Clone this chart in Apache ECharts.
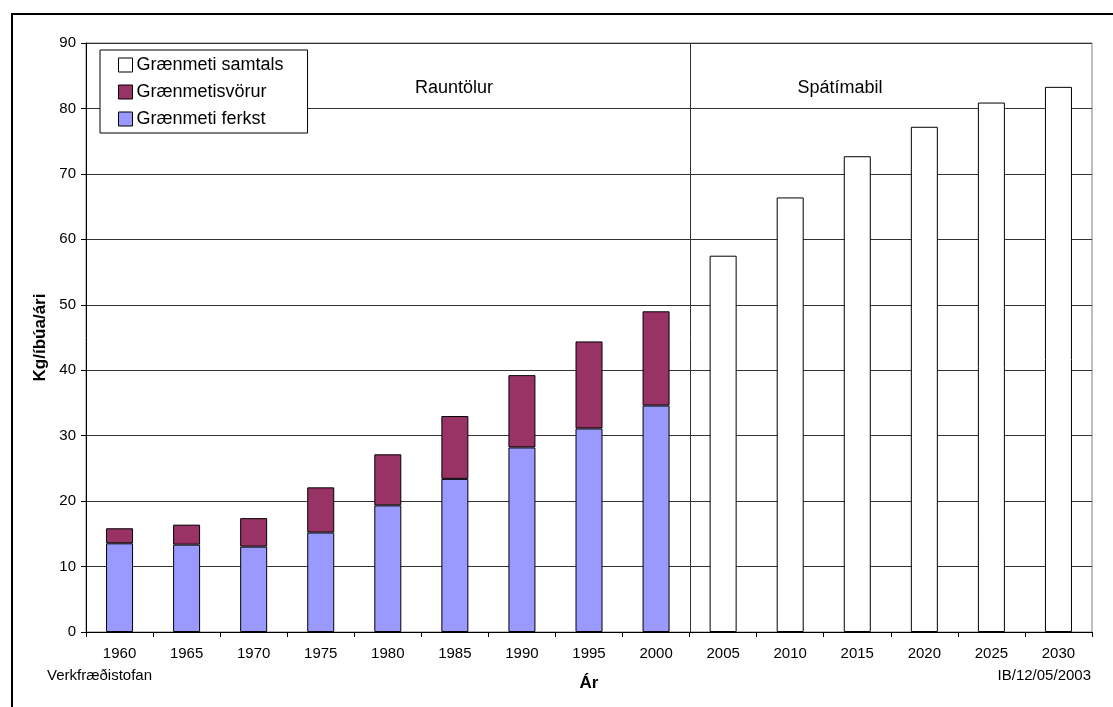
<!DOCTYPE html>
<html>
<head>
<meta charset="utf-8">
<script src="https://cdn.jsdelivr.net/npm/echarts@6/dist/echarts.min.js"></script>
<style>
html,body{margin:0;padding:0;background:#fff;}
#chart{width:1113px;height:707px;}
</style>
</head>
<body>
<div id="chart"></div>
<script>
var years = ['1960','1965','1970','1975','1980','1985','1990','1995','2000','2005','2010','2015','2020','2025','2030'];
var actualYears = ['1960','1965','1970','1975','1980','1985','1990','1995','2000'];
var forecastYears = ['2005','2010','2015','2020','2025','2030'];
var freshValues = [13.55, 13.35, 13.05, 15.2, 19.35, 23.4, 28.2, 31.1, 34.6];
var productValues = [2.3, 3.05, 4.35, 6.9, 7.8, 9.6, 11.05, 13.3, 14.4];
var totalForecast = [57.5, 66.4, 72.7, 77.2, 80.9, 83.3];
var yTicks = [0, 10, 20, 30, 40, 50, 60, 70, 80, 90];

var FONT = '"Liberation Sans", Arial, sans-serif';

function alignTo(cats, vals) {
  return years.map(function (y) {
    var i = cats.indexOf(y);
    return i >= 0 ? vals[i] : null;
  });
}

var chart = echarts.init(document.getElementById('chart'), null, {renderer: 'canvas'});

var option = {
  animation: false,
  backgroundColor: '#fff',
  textStyle: {fontFamily: FONT, color: '#000'},
  grid: {
    left: 86, right: 21, top: 43, bottom: 75,
    show: true, borderColor: '#808080', borderWidth: 1, backgroundColor: 'transparent'
  },
  legend: {
    orient: 'vertical',
    left: 100, top: 50,
    padding: [6, 24, 5, 18],
    itemGap: 9,
    itemWidth: 14, itemHeight: 14,
    backgroundColor: '#fff',
    borderColor: '#000', borderWidth: 1,
    textStyle: {fontFamily: FONT, fontSize: 18, color: '#000', padding: [0, 0, 0, -1]},
    itemStyle: {borderColor: '#000', borderWidth: 1},
    icon: 'rect',
    data: ['Grænmeti samtals', 'Grænmetisvörur', 'Grænmeti ferkst']
  },
  xAxis: {
    type: 'category',
    data: years,
    boundaryGap: true,
    name: 'Ár',
    nameLocation: 'middle',
    nameGap: 43,
    nameTextStyle: {fontFamily: FONT, fontSize: 17, fontWeight: 'bold', color: '#000'},
    axisLine: {lineStyle: {color: '#000', width: 1}},
    axisTick: {show: true, interval: 0, length: 5, lineStyle: {color: '#000'}},
    axisLabel: {interval: 0, fontFamily: FONT, fontSize: 15, color: '#000', margin: 14}
  },
  yAxis: {
    type: 'value',
    min: yTicks[0], max: yTicks[yTicks.length - 1], interval: 10,
    name: 'Kg/íbúa/ári',
    nameLocation: 'middle',
    nameGap: 37,
    nameRotate: 90,
    nameTextStyle: {fontFamily: FONT, fontSize: 17, fontWeight: 'bold', color: '#000'},
    axisLine: {show: true, lineStyle: {color: '#000', width: 1}},
    axisTick: {show: true, length: 5, lineStyle: {color: '#000'}},
    axisLabel: {fontFamily: FONT, fontSize: 15, color: '#000', margin: 10},
    splitLine: {show: true, lineStyle: {color: '#333', width: 1}}
  },
  series: [
    {
      name: 'Grænmeti ferkst',
      type: 'bar',
      stack: 'a',
      barWidth: 27,
      data: alignTo(actualYears, freshValues),
      itemStyle: {color: '#9999FF', borderColor: '#000', borderWidth: 1}
    },
    {
      name: 'Grænmetisvörur',
      type: 'bar',
      stack: 'a',
      barWidth: 27,
      data: alignTo(actualYears, productValues),
      itemStyle: {color: '#993366', borderColor: '#000', borderWidth: 1}
    },
    {
      name: 'Grænmeti samtals',
      type: 'bar',
      stack: 'a',
      barWidth: 27,
      data: alignTo(forecastYears, totalForecast),
      itemStyle: {color: '#FFFFFF', borderColor: '#000', borderWidth: 1}
    }
  ]
};
chart.setOption(option);

var x2000 = chart.convertToPixel({xAxisIndex: 0}, '2000');
var x2005 = chart.convertToPixel({xAxisIndex: 0}, '2005');
var divX = Math.round((x2000 + x2005) / 2) + 0.5;
var yTop = chart.convertToPixel({yAxisIndex: 0}, 90);
var yBot = chart.convertToPixel({yAxisIndex: 0}, 0);

chart.setOption({
  graphic: [
    {type: 'rect', silent: true, z: 100,
     shape: {x: 12, y: 14, width: 1200, height: 800},
     style: {fill: null, stroke: '#000', lineWidth: 2}},
    {type: 'line', silent: true, z: 50,
     shape: {x1: divX, y1: yTop, x2: divX, y2: yBot},
     style: {stroke: '#333', lineWidth: 1}},
    {type: 'text', silent: true, z: 60, x: 454, y: 88,
     style: {text: 'Rauntölur', font: '18px ' + FONT, fill: '#000', align: 'center', verticalAlign: 'middle'}},
    {type: 'text', silent: true, z: 60, x: 840, y: 88,
     style: {text: 'Spátímabil', font: '18px ' + FONT, fill: '#000', align: 'center', verticalAlign: 'middle'}},
    {type: 'text', silent: true, z: 60, x: 47, y: 676,
     style: {text: 'Verkfræðistofan', font: '15px ' + FONT, fill: '#000', align: 'left', verticalAlign: 'middle'}},
    {type: 'text', silent: true, z: 60, x: 1091, y: 676,
     style: {text: 'IB/12/05/2003', font: '15px ' + FONT, fill: '#000', align: 'right', verticalAlign: 'middle'}}
  ]
});
</script>
</body>
</html>
